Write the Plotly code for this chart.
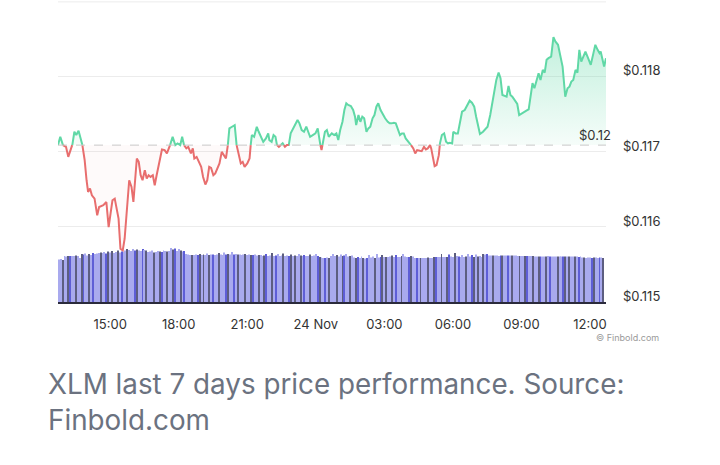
import pandas as pd
import plotly.graph_objects as go

# XLM price, 23-24 Nov
times = [
    '12:43', '12:49', '12:56', '13:04', '13:10', '13:16', '13:21', '13:26', '13:31', '13:37',
    '13:44', '13:47', '13:53', '13:58', '14:02', '14:07', '14:12', '14:19', '14:26', '14:31',
    '14:42', '14:50', '14:56', '15:01', '15:06', '15:12', '15:17', '15:22', '15:27', '15:33',
    '15:38', '15:43', '15:50', '15:56', '16:01', '16:10', '16:15', '16:20', '16:25', '16:31',
    '16:36', '16:41', '16:46', '16:52', '16:57', '17:02', '17:09', '17:16', '17:23', '17:29',
    '17:34', '17:39', '17:44', '17:51', '17:57', '18:04', '18:09', '18:14', '18:20', '18:25',
    '18:32', '18:37', '18:41', '18:47', '18:52', '18:59', '19:04', '19:10', '19:15', '19:20',
    '19:25', '19:31', '19:36', '19:41', '19:47', '19:53', '19:59', '20:04', '20:09', '20:13',
    '20:20', '20:27', '20:32', '20:37', '20:43', '20:48', '20:53', '21:00', '21:06', '21:09',
    '21:12', '21:18', '21:25', '21:30', '21:37', '21:42', '21:49', '21:55', '21:58', '22:04',
    '22:09', '22:14', '22:18', '22:23', '22:28', '22:33', '22:39', '22:44', '22:49', '22:54',
    '23:00', '23:07', '23:12', '23:17', '23:23', '23:29', '23:35', '23:40', '23:45', '23:52',
    '23:59', '00:05', '00:10', '00:15', '00:19', '00:24', '00:29', '00:34', '00:42', '00:48',
    '00:54', '00:59', '01:04', '01:10', '01:15', '01:20', '01:25', '01:32', '01:38', '01:43',
    '01:46', '01:52', '01:57', '02:02', '02:07', '02:13', '02:18', '02:23', '02:29', '02:34',
    '02:39', '02:44', '02:50', '02:57', '03:02', '03:09', '03:14', '03:19', '03:25', '03:30',
    '03:35', '03:41', '03:46', '03:51', '03:56', '04:03', '04:10', '04:16', '04:21', '04:26',
    '04:33', '04:38', '04:44', '04:49', '04:54', '05:00', '05:03', '05:07', '05:12', '05:17',
    '05:23', '05:26', '05:31', '05:37', '05:42', '05:47', '05:52', '05:58', '06:01', '06:07',
    '06:13', '06:19', '06:24', '06:31', '06:36', '06:44', '06:50', '06:56', '07:01', '07:06',
    '07:11', '07:19', '07:24', '07:31', '07:38', '07:44', '07:49', '07:54', '08:00', '08:05',
    '08:10', '08:15', '08:21', '08:26', '08:31', '08:36', '08:42', '08:49', '08:54', '08:59',
    '09:06', '09:13', '09:19', '09:24', '09:29', '09:34', '09:40', '09:45', '09:50', '09:56',
    '10:01', '10:06', '10:11', '10:18', '10:24', '10:29', '10:36', '10:41', '10:48', '10:55',
    '11:01', '11:06', '11:11', '11:16', '11:22', '11:27', '11:32', '11:37', '11:43', '11:48',
    '11:55', '12:02', '12:09', '12:14', '12:20', '12:25', '12:28', '12:32', '12:37', '12:42',
]
prices = [
    0.117091, 0.117202, 0.117091, 0.117068, 0.116934, 0.117015, 0.117104, 0.117269, 0.117225, 0.117282,
    0.117158, 0.117091, 0.116890, 0.116623, 0.116467, 0.116512, 0.116422, 0.116378, 0.116155, 0.116266,
    0.116289, 0.116333, 0.115999, 0.116178, 0.116356, 0.116378, 0.116222, 0.116111, 0.115710, 0.115687,
    0.115843, 0.116178, 0.116623, 0.116533, 0.116333, 0.116913, 0.116868, 0.116690, 0.116623, 0.116757,
    0.116646, 0.116690, 0.116667, 0.116690, 0.116556, 0.116690, 0.116846, 0.117033, 0.117024, 0.116980,
    0.117047, 0.117114, 0.117202, 0.117091, 0.117114, 0.117091, 0.117202, 0.117091, 0.117047, 0.117068,
    0.116980, 0.117047, 0.116913, 0.116934, 0.116868, 0.116801, 0.116667, 0.116565, 0.116623, 0.116801,
    0.116787, 0.116690, 0.116713, 0.116779, 0.116846, 0.117001, 0.116957, 0.116913, 0.117091, 0.117314,
    0.117336, 0.117358, 0.117091, 0.116980, 0.116846, 0.116868, 0.116801, 0.116846, 0.116913, 0.117091,
    0.117225, 0.117202, 0.117336, 0.117269, 0.117202, 0.117135, 0.117180, 0.117247, 0.117158, 0.117135,
    0.117225, 0.117202, 0.117091, 0.117068, 0.117091, 0.117114, 0.117068, 0.117091, 0.117091, 0.117247,
    0.117314, 0.117381, 0.117425, 0.117381, 0.117291, 0.117269, 0.117336, 0.117269, 0.117202, 0.117225,
    0.117247, 0.117314, 0.117135, 0.117024, 0.117135, 0.117269, 0.117291, 0.117202, 0.117247, 0.117225,
    0.117247, 0.117158, 0.117291, 0.117402, 0.117559, 0.117648, 0.117626, 0.117612, 0.117559, 0.117469,
    0.117358, 0.117492, 0.117402, 0.117469, 0.117448, 0.117269, 0.117314, 0.117336, 0.117448, 0.117492,
    0.117603, 0.117648, 0.117559, 0.117492, 0.117448, 0.117402, 0.117381, 0.117381, 0.117389, 0.117381,
    0.117314, 0.117225, 0.117247, 0.117247, 0.117180, 0.117135, 0.117091, 0.117047, 0.116980, 0.117024,
    0.117015, 0.117011, 0.117068, 0.117033, 0.117047, 0.117091, 0.117047, 0.116913, 0.116810, 0.116824,
    0.116957, 0.117114, 0.117225, 0.117247, 0.117135, 0.117114, 0.117122, 0.117114, 0.117269, 0.117247,
    0.117247, 0.117381, 0.117536, 0.117559, 0.117603, 0.117683, 0.117656, 0.117603, 0.117469, 0.117336,
    0.117238, 0.117269, 0.117301, 0.117336, 0.117492, 0.117670, 0.117804, 0.117960, 0.118058, 0.117983,
    0.117759, 0.117746, 0.117737, 0.117880, 0.117759, 0.117737, 0.117693, 0.117639, 0.117492, 0.117505,
    0.117523, 0.117550, 0.117568, 0.117737, 0.117916, 0.117849, 0.117969, 0.118050, 0.117960, 0.118094,
    0.118058, 0.118227, 0.118250, 0.118271, 0.118531, 0.118472, 0.118428, 0.118317, 0.118138, 0.117737,
    0.117849, 0.117870, 0.117937, 0.117960, 0.118094, 0.118058, 0.118361, 0.118205, 0.118271, 0.118338,
    0.118250, 0.118161, 0.118317, 0.118428, 0.118361, 0.118317, 0.118338, 0.118227, 0.118138, 0.118250,
]
open_price = 0.117091

# 5-minute volume (million XLM), 12:40 on 23 Nov onward, one row per hour
volumes = [
    0.84, 0.85, 0.86, 0.84, 0.92, 0.91, 0.92, 0.92, 0.92, 0.92, 0.93, 0.92,
    0.88, 0.96, 0.95, 0.97, 0.93, 0.96, 0.94, 0.98, 0.96, 0.97, 0.98, 0.99,
    0.98, 1.00, 0.97, 1.01, 0.99, 1.02, 0.98, 1.00, 1.03, 0.99, 1.01, 1.00,
    1.03, 1.06, 1.04, 1.02, 1.06, 1.03, 1.05, 1.03, 1.02, 1.06, 1.04, 1.03,
    1.00, 1.01, 1.03, 0.99, 1.00, 1.02, 1.01, 1.00, 1.03, 1.02, 1.01, 1.02,
    1.08, 1.05, 1.07, 1.02, 1.06, 1.03, 1.01, 1.02, 0.96, 0.95, 0.94, 0.94,
    0.94, 0.95, 0.94, 0.96, 0.94, 0.95, 0.94, 0.97, 0.94, 0.95, 0.95, 0.94,
    0.95, 0.98, 0.95, 0.94, 0.99, 0.95, 0.96, 0.95, 1.00, 0.95, 0.96, 0.95,
    0.95, 0.94, 0.95, 0.96, 0.94, 0.95, 0.94, 0.94, 0.95, 0.93, 0.94, 0.94,
    0.92, 0.93, 0.96, 0.92, 0.93, 0.98, 0.92, 0.93, 0.96, 0.92, 0.93, 0.97,
    0.92, 0.93, 0.92, 0.95, 0.92, 0.93, 0.92, 0.96, 0.93, 0.92, 0.94, 0.92,
    0.92, 0.95, 0.92, 0.93, 0.96, 0.92, 0.90, 0.89, 0.88, 0.88, 0.89, 0.88,
    0.92, 0.96, 0.92, 0.94, 0.91, 0.95, 0.92, 0.93, 0.96, 0.91, 0.92, 0.93,
    0.89, 0.88, 0.90, 0.88, 0.91, 0.88, 0.87, 0.88, 0.94, 0.89, 0.91, 0.88,
    0.96, 0.89, 0.90, 0.94, 0.90, 0.90, 0.90, 0.91, 0.93, 0.90, 0.94, 0.90,
    0.90, 0.92, 0.96, 0.91, 0.90, 0.90, 0.92, 0.91, 0.88, 0.88, 0.88, 0.88,
    0.88, 0.88, 0.88, 0.89, 0.88, 0.88, 0.90, 0.90, 0.90, 0.90, 0.96, 0.90,
    0.90, 0.90, 0.95, 0.91, 0.90, 0.98, 0.92, 0.91, 0.90, 0.94, 0.90, 0.91,
    0.96, 0.91, 0.94, 0.90, 0.95, 0.91, 0.92, 0.90, 0.96, 0.95, 0.96, 0.93,
    0.93, 0.93, 0.93, 0.93, 0.92, 0.93, 0.93, 0.93, 0.93, 0.93, 0.93, 0.93,
    0.93, 0.93, 0.92, 0.92, 0.92, 0.92, 0.92, 0.92, 0.92, 0.92, 0.92, 0.91,
    0.91, 0.91, 0.91, 0.91, 0.91, 0.91, 0.92, 0.91, 0.91, 0.91, 0.91, 0.91,
    0.91, 0.91, 0.91, 0.91, 0.91, 0.91, 0.91, 0.91, 0.91, 0.91, 0.90, 0.91,
    0.89, 0.89, 0.88, 0.89, 0.89, 0.88, 0.89, 0.89, 0.88, 0.89, 0.89, 0.88,
]

tick_times = ['2023-11-23 15:00', '2023-11-23 18:00', '2023-11-23 21:00', '2023-11-24 00:00',
              '2023-11-24 03:00', '2023-11-24 06:00', '2023-11-24 09:00', '2023-11-24 12:00']
tick_text = ['15:00', '18:00', '21:00', '24 Nov', '03:00', '06:00', '09:00', '12:00']
price_ticks = [0.115, 0.116, 0.117, 0.118]

GREEN = 'rgb(96,216,166)'
RED = 'rgb(232,110,110)'
FONT = 'Inter'

# timestamps: roll over to 24 Nov after midnight
stamps = []
day = pd.Timestamp('2023-11-23')
prev = None
for t in times:
    if prev is not None and t < prev:
        day = day + pd.Timedelta(days=1)
    stamps.append(day + pd.Timedelta(hours=int(t[:2]), minutes=int(t[3:])))
    prev = t

# add the points where the line crosses the opening price so the colours split cleanly
xs, ys = [stamps[0]], [prices[0]]
for i in range(1, len(prices)):
    y0, y1 = prices[i - 1], prices[i]
    if (y0 - open_price) * (y1 - open_price) < 0:
        f = (open_price - y0) / (y1 - y0)
        xs.append(stamps[i - 1] + (stamps[i] - stamps[i - 1]) * f)
        ys.append(open_price)
    xs.append(stamps[i])
    ys.append(y1)

up_fill = [max(y, open_price) for y in ys]
down_fill = [min(y, open_price) for y in ys]
up_line = [y if y >= open_price else None for y in ys]
down_line = [y if y <= open_price else None for y in ys]
base = [open_price] * len(ys)

vol_x = pd.date_range('2023-11-23 12:40', periods=len(volumes), freq='5min')
palette = {'L': '#a9aaee', 'D': '#5d5e80', 'B': '#5e5ed6'}
pattern = 'LLLDLLDBLLDLLDBLLDLBLLLDLLBDLDLLDLBLLDLLLBDLLBLD'
bar_colors = [palette[pattern[i % len(pattern)]] for i in range(len(volumes))]

fig = go.Figure()
fig.add_trace(go.Bar(x=vol_x, y=volumes, yaxis='y2', marker=dict(color=bar_colors, line=dict(width=0)),
                     hoverinfo='skip'))
fig.add_trace(go.Scatter(x=xs, y=base, mode='lines', line=dict(width=0), hoverinfo='skip'))
fig.add_trace(go.Scatter(x=xs, y=up_fill, mode='lines', line=dict(width=0), fill='tonexty',
                         fillgradient=dict(type='vertical', start=open_price, stop=max(prices),
                                           colorscale=[[0, 'rgba(96,216,166,0.06)'],
                                                       [1, 'rgba(96,216,166,0.38)']]),
                         hoverinfo='skip'))
fig.add_trace(go.Scatter(x=xs, y=base, mode='lines', line=dict(width=0), hoverinfo='skip'))
fig.add_trace(go.Scatter(x=xs, y=down_fill, mode='lines', line=dict(width=0), fill='tonexty',
                         fillcolor='rgba(232,110,110,0.03)', hoverinfo='skip'))
fig.add_trace(go.Scatter(x=xs, y=up_line, mode='lines', line=dict(color=GREEN, width=2), connectgaps=False))
fig.add_trace(go.Scatter(x=xs, y=down_line, mode='lines', line=dict(color=RED, width=2), connectgaps=False))

fig.add_hline(y=open_price, line=dict(color='#c8c8c8', width=1, dash='dash'))
fig.add_hline(y=0.119, line=dict(color='#ececec', width=1))

fig.add_annotation(x=1.012, xref='paper', y=open_price, yref='y', text='$0.12', showarrow=False,
                   xanchor='right', yanchor='bottom', font=dict(family=FONT, size=13, color='#333'))
fig.add_annotation(x=1.1, xref='paper', y=-0.119, yref='paper', text='© Finbold.com', showarrow=False,
                   xanchor='right', yanchor='middle', font=dict(family=FONT, size=9, color='#9a9a9a'))
fig.add_annotation(x=-0.022, xref='paper', y=-0.33, yref='paper', align='left',
                   text='XLM last 7 days price performance. Source:<br>Finbold.com', showarrow=False,
                   xanchor='left', yanchor='middle', font=dict(family=FONT, size=27.8, color='#6b7280'))

fig.update_layout(
    width=720, height=465,
    margin=dict(l=58, r=114, t=0, b=163),
    paper_bgcolor='white', plot_bgcolor='white',
    showlegend=False, bargap=0.5,
    xaxis=dict(range=[stamps[0], stamps[-1]], tickvals=tick_times, ticktext=tick_text, automargin=False,
               showgrid=False, zeroline=False, showline=True, linecolor='#2b2b3c', linewidth=1.5,
               ticks='', ticklabelstandoff=10, tickfont=dict(family=FONT, size=13, color='#333')),
    yaxis=dict(range=[0.115, 0.119025], side='right', tickvals=price_ticks, tickformat='$.3f',
               automargin=False, showgrid=True, gridcolor='#ececec', zeroline=False, ticks='',
               ticklabelstandoff=16, ticklabelshift=-6, tickfont=dict(family=FONT, size=13, color='#333')),
    yaxis2=dict(range=[0, 6.04], overlaying='y', visible=False),
)

# the page's default body margin would shift the whole chart by 8px
fig.write_html('out.html', config={'displayModeBar': False},
               post_script="document.body.style.margin = '0';")
